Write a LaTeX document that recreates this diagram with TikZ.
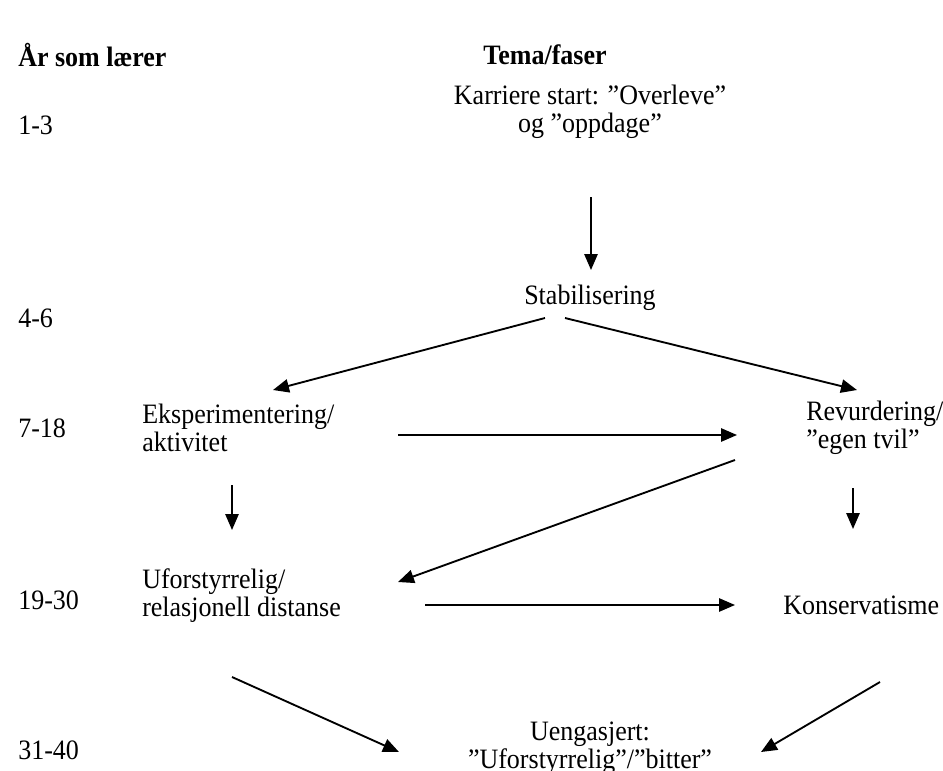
\documentclass[tikz,border=0pt]{standalone}
\usepackage{fontspec}
\usepackage{graphicx}
\setmainfont{Liberation Serif}
\usetikzlibrary{arrows.meta}
% slightly tall letterforms
\newcommand\stretchtxt[1]{\scalebox{1}[1.08]{#1}}
\begin{document}
\begin{tikzpicture}[x=0.75pt,y=-0.75pt,
  txt/.style={inner sep=0pt,font=\fontsize{19.5}{21}\selectfont},
  lbl/.style={txt,anchor=west,align=left},
  mid/.style={txt,align=center},
  head/.style={txt,font=\fontsize{19.5}{21}\selectfont\bfseries},
  arr/.style={line width=1.4pt,-{Triangle[length=12pt,width=10pt]}}]
\useasboundingbox (0,0) rectangle (943,771);
% column headings
\node[head,anchor=west] (hyear) at (18,55) {\stretchtxt{År som lærer}};
\node[head] (htema) at (545,55) {\stretchtxt{Tema/faser}};
% years
\node[lbl] (y1) at (18,125) {\stretchtxt{1-3}};
\node[lbl] (y2) at (18,318) {\stretchtxt{4-6}};
\node[lbl] (y3) at (18,428) {\stretchtxt{7-18}};
\node[lbl] (y4) at (18,600) {\stretchtxt{19-30}};
\node[lbl] (y5) at (18,750) {\stretchtxt{31-40}};
% phases
\node[mid] (kar) at (590,112) {\stretchtxt{Karriere start: ”Overleve”}\\\stretchtxt{og ”oppdage”}};
\node[mid] (stab) at (590,298) {\stretchtxt{Stabilisering}};
\node[lbl] (eks) at (142,428) {\stretchtxt{Eksperimentering/}\\\stretchtxt{aktivitet}};
\node[lbl] (rev) at (806,428) {\stretchtxt{Revurdering/}\\\stretchtxt{”egen tvil”}};
\node[lbl] (ufo) at (142,596) {\stretchtxt{Uforstyrrelig/}\\\stretchtxt{relasjonell distanse}};
\node[lbl] (kons) at (783,605) {\stretchtxt{Konservatisme}};
\node[mid] (ueng) at (590,748) {\stretchtxt{Uengasjert:}\\\stretchtxt{”Uforstyrrelig”/”bitter”}};
% arrow end points
\coordinate (karS) at (591,197);   \coordinate (stabN) at (591,270);
\coordinate (stabL) at (545,318);  \coordinate (eksN) at (273,390);
\coordinate (stabR) at (565,318);  \coordinate (revN) at (857,390);
\coordinate (eksE) at (398,435);   \coordinate (revW) at (737,435);
\coordinate (revSW) at (735,460);  \coordinate (ufoNE) at (398,582);
\coordinate (revS) at (853,488);   \coordinate (konsN) at (853,529);
\coordinate (eksS) at (232,485);   \coordinate (ufoN) at (232,530);
\coordinate (ufoE) at (425,605);   \coordinate (konsW) at (735,605);
\coordinate (konsS) at (880,682);  \coordinate (uengNE) at (761,752);
\coordinate (ufoS) at (232,677);   \coordinate (uengNW) at (399,752);
% connectors
\draw[arr] (karS) -- (stabN);
\draw[arr] (stabL) -- (eksN);
\draw[arr] (stabR) -- (revN);
\draw[arr] (eksE) -- (revW);
\draw[arr] (revSW) -- (ufoNE);
\draw[arr] (revS) -- (konsN);
\draw[arr] (eksS) -- (ufoN);
\draw[arr] (ufoE) -- (konsW);
\draw[arr] (konsS) -- (uengNE);
\draw[arr] (ufoS) -- (uengNW);
\end{tikzpicture}
\end{document}
